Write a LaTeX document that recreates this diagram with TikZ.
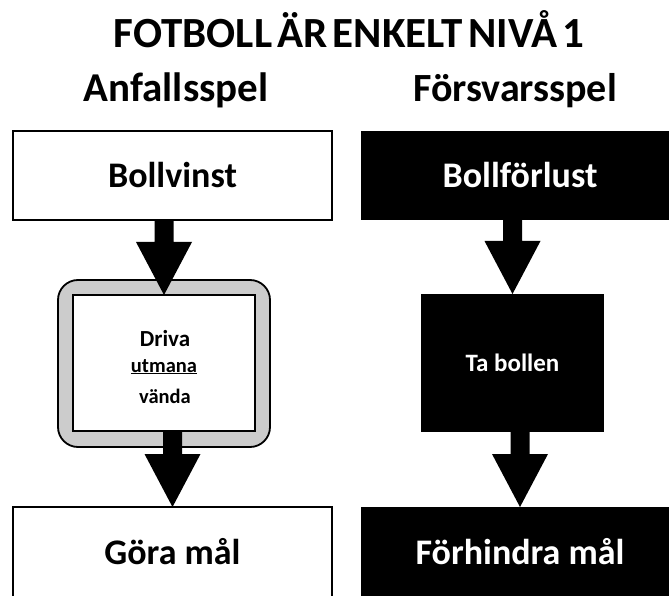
\documentclass[tikz,border=0pt]{standalone}
\usepackage{fontspec}
\setmainfont{Carlito}
\usetikzlibrary{calc}
\newcommand\fsz[1]{\fontsize{#1bp}{#1bp}\selectfont\bfseries}
\newcommand\blockarr[2]{%
  \fill[black] let \p1=(#1), \p2=(#2) in
    (\x2-9.5bp,\y1) -- (\x2+9.5bp,\y1) -- (\x2+9.5bp,\y2+53bp) -- (\x2+28bp,\y2+53bp)
    -- (\x2,\y2) -- (\x2-28bp,\y2+53bp) -- (\x2-9.5bp,\y2+53bp) -- cycle;}
\begin{document}
\begin{tikzpicture}[x=1bp,y=-1bp,
  whitebox/.style={draw=black,line width=1.8bp,fill=white,inner sep=0pt,outer sep=0pt},
  blackbox/.style={fill=black,text=white,inner sep=0pt,outer sep=0pt},
  lbl/.style={inner sep=0pt,outer sep=0pt,anchor=base}]
\useasboundingbox (0,0) rectangle (669,596);
% headings
\node[lbl] (title) at (349,48) {\fsz{43}\spaceskip=0.12em\relax FOTBOLL ÄR ENKELT NIVÅ 1};
\node[lbl] (anf) at (176,102) {\fsz{41}Anfallsspel};
\node[lbl] (fors) at (515,102) {\fsz{40}Försvarsspel};
% left column
\node[whitebox,minimum width=319bp,minimum height=89bp] (bv) at (172.5,175.5) {\fsz{36}Bollvinst};
\node[draw=black,line width=1.8bp,fill=black!20,rounded corners=20bp,minimum width=212bp,minimum height=167bp,inner sep=0pt] (frame) at (164,363.5) {};
\node[whitebox,minimum width=182bp,minimum height=136bp] (drv) at (164,363) {};
\node[lbl] (t1) at (165,346) {\fsz{23}Driva};
\node[lbl] (t2) at (164,372) {\fsz{20.5}\underline{utmana}};
\node[lbl] (t3) at (165,403) {\fsz{20.5}vända};
\node[whitebox,minimum width=319bp,minimum height=90bp] (gm) at (172.5,552) {\fsz{36}Göra mål};
% right column
\node[blackbox,minimum width=318bp,minimum height=89bp] (bf) at (520,175.5) {\fsz{36}Bollförlust};
\node[blackbox,minimum width=183bp,minimum height=138bp] (tb) at (512.5,363) {\fsz{25}Ta bollen};
\node[blackbox,minimum width=318bp,minimum height=90bp] (fm) at (520,552) {\fsz{36}Förhindra mål};
% block arrows
\blockarr{bv.south}{drv.north}
\blockarr{drv.south}{gm.north}
\blockarr{bf.south}{tb.north}
\blockarr{tb.south}{fm.north}
\end{tikzpicture}
\end{document}
